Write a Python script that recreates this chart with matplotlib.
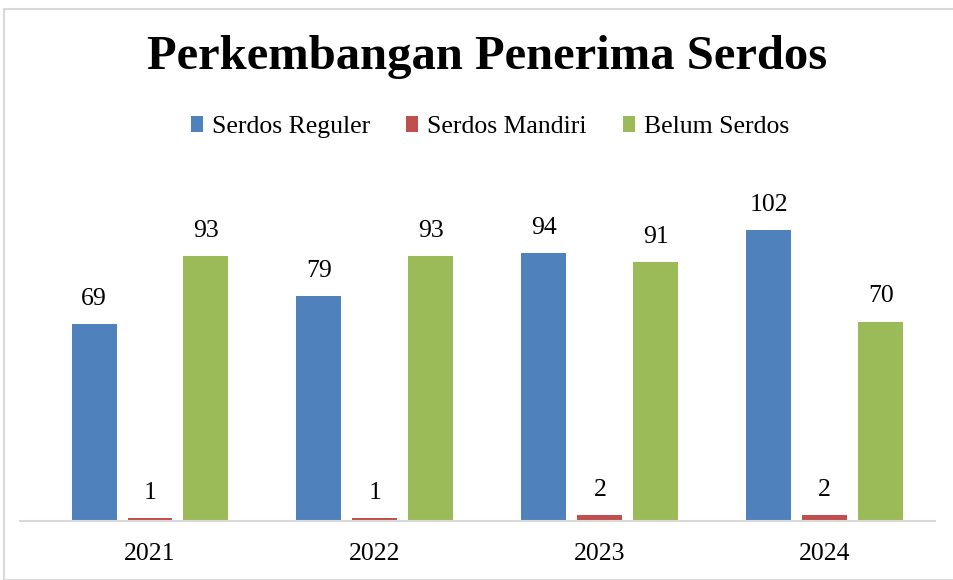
import numpy as np
import matplotlib.pyplot as plt
from matplotlib.patches import Rectangle

years = ['2021', '2022', '2023', '2024']
reguler = [69, 79, 94, 102]
mandiri = [1, 1, 2, 2]
belum = [93, 93, 91, 70]

series = [('Serdos Reguler', reguler, '#4f81bd'),
          ('Serdos Mandiri', mandiri, '#c0504d'),
          ('Belum Serdos', belum, '#9bbb59')]

plt.rcParams['font.family'] = ['Liberation Serif', 'DejaVu Serif']

W, H = 954, 580
fig = plt.figure(figsize=(W / 100, H / 100), dpi=100)

# light grey chart frame (right/bottom sides fall outside the picture)
fig.patches.append(Rectangle((4 / W, 0), 1.2, 1 - 9 / H, transform=fig.transFigure,
                             fill=False, edgecolor='#d9d9d9', linewidth=1.5))

ax = fig.add_axes([20 / W, 59 / H, (935 - 20) / W, (521 - 179) / H])

x = np.arange(len(years))
width = 45 / 225
step = 56 / 225
for i, (name, vals, color) in enumerate(series):
    pos = x + (i - 1) * step
    bars = ax.bar(pos, vals, width, color=color, label=name)
    for b, v in zip(bars, vals):
        ax.annotate(str(v), (b.get_x() + b.get_width() / 2, v),
                    xytext=(0, 18), textcoords='offset points',
                    ha='center', va='center', fontsize=18.5)

ax.set_xlim(-0.578, 3.49)
ax.set_ylim(0, 120)
ax.set_xticks(x)
ax.set_xticklabels(years, fontsize=18.5)
ax.tick_params(axis='x', length=0, pad=16)
ax.set_yticks([])
for s in ['top', 'right', 'left']:
    ax.spines[s].set_visible(False)
ax.spines['bottom'].set_color('#d9d9d9')
ax.spines['bottom'].set_linewidth(1.5)

fig.text(487 / W, 1 - 57 / H, 'Perkembangan Penerima Serdos', ha='center', va='center',
         fontsize=35, fontweight='bold')

fig.legend(loc='center', bbox_to_anchor=(490 / W, 1 - 127 / H), ncol=3, frameon=False,
           fontsize=18.5, handlelength=0.47, handleheight=0.6, handletextpad=0.35,
           columnspacing=1.4)

fig.savefig('out.png', dpi=100)
